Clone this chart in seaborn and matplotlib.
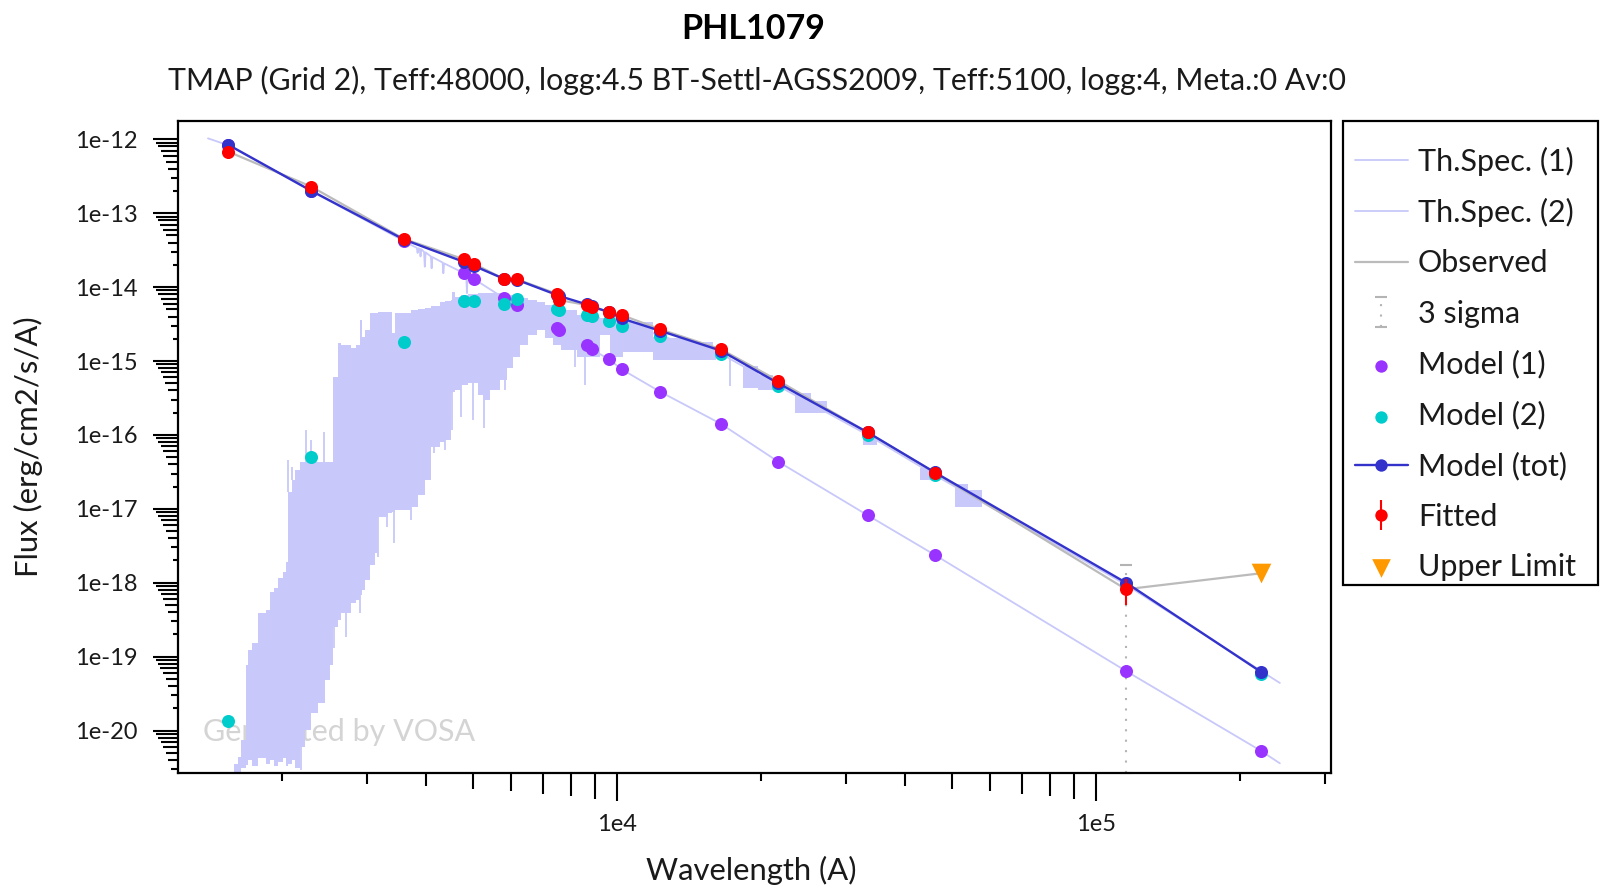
import numpy as np
import matplotlib
matplotlib.use("Agg")
import matplotlib.pyplot as plt
import seaborn as sns
from matplotlib.ticker import FixedLocator, FuncFormatter, NullFormatter
from matplotlib.patches import Rectangle

# ---------------------------------------------------------------- data
TITLE = "PHL1079"
SUBTITLE = ("TMAP (Grid 2), Teff:48000, logg:4.5 BT-Settl-AGSS2009, "
            "Teff:5100, logg:4, Meta.:0 Av:0")

# effective wavelengths of the photometric filters (A)
filter_wave = [1545, 2300, 3592, 4794, 5036, 5816, 6175, 7506, 7567, 8644,
               8855, 9636, 10228, 12297, 16487, 21713, 33379, 46117, 115520, 220740]

# observed fluxes used in the fit (all filters but the last)
fitted_wave = filter_wave[:-1]
fitted_flux = [6.79e-13, 2.29e-13, 4.48e-14, 2.38e-14, 2.06e-14, 1.28e-14, 1.28e-14,
               8.07e-15, 6.69e-15, 5.73e-15, 5.33e-15, 4.65e-15, 4.19e-15, 2.69e-15,
               1.44e-15, 5.41e-16, 1.08e-16, 3.08e-17, 8.15e-19]
fitted_err = [1.5e-14, 5.0e-15, 9.0e-16, 4.0e-16, 3.0e-16, 2.0e-16, 2.0e-16,
              1.5e-16, 1.5e-16, 1.2e-16, 1.1e-16, 1.0e-16, 9.0e-17, 5.0e-17,
              3.0e-17, 1.0e-17, 2.0e-18, 6.0e-19, 3.1e-19]

# upper limit
upper_wave = [220740]
upper_flux = [1.34e-18]

# 3-sigma range of the noisiest point
sigma3_wave = [115520]
sigma3_flux = [8.15e-19]
sigma3_err = [3.1e-19]

# synthetic photometry of the two components and their sum
model1_flux = [8.4e-13, 2.0e-13, 4.2e-14, 1.54e-14, 1.28e-14, 7.05e-15, 5.73e-15,
               2.77e-15, 2.65e-15, 1.65e-15, 1.44e-15, 1.05e-15, 7.72e-16, 3.85e-16,
               1.41e-16, 4.34e-17, 8.17e-18, 2.37e-18, 6.38e-20, 5.33e-21]
model2_flux = [1.36e-20, 4.98e-17, 1.82e-15, 6.48e-15, 6.48e-15, 5.85e-15, 6.9e-15,
               5.01e-15, 4.95e-15, 4.19e-15, 4.06e-15, 3.51e-15, 3.0e-15, 2.18e-15,
               1.24e-15, 4.59e-16, 1.0e-16, 2.85e-17, 9.4e-19, 5.9e-20]
model_tot_flux = [8.4e-13, 2.01e-13, 4.4e-14, 2.19e-14, 1.93e-14, 1.29e-14, 1.26e-14,
                  7.8e-15, 7.6e-15, 5.84e-15, 5.5e-15, 4.56e-15, 3.77e-15, 2.57e-15,
                  1.38e-15, 5.0e-16, 1.08e-16, 3.1e-17, 1.0e-18, 6.25e-20]

# theoretical spectrum of the hot component (TMAP)
spec1_wave = [1400, 1545, 2300, 3592, 3700, 3820, 3835, 3850, 3875, 3889, 3903, 3955,
              3970, 3985, 4088, 4102, 4116, 4325, 4340, 4355, 4794, 4845, 4861, 4877,
              5036, 5816, 6175, 6545, 6563, 6581, 7506, 8644, 8855, 9636, 10228, 12297,
              16487, 21713, 33379, 46117, 115520, 220740, 242000]
spec1_flux = [1.03e-12, 8.3e-13, 2.0e-13, 4.2e-14, 3.77e-14, 3.4e-14, 2.9e-14, 3.35e-14,
              3.3e-14, 2.6e-14, 3.25e-14, 3.0e-14, 1.89e-14, 2.95e-14, 2.6e-14, 1.8e-14,
              2.55e-14, 2.15e-14, 1.54e-14, 2.1e-14, 1.54e-14, 1.47e-14, 8.3e-15, 1.45e-14,
              1.28e-14, 7.05e-15, 5.73e-15, 4.4e-15, 2.8e-15, 4.35e-15, 2.77e-15, 1.65e-15,
              1.44e-15, 1.05e-15, 7.72e-16, 3.85e-16, 1.41e-16, 4.34e-17, 8.17e-18,
              2.37e-18, 6.38e-20, 5.33e-21, 3.6e-21]

# theoretical spectrum of the cool component (BT-Settl), binned:
# upper and lower envelope of the flux inside each bin
spec2_wave = [1549, 1587, 1618, 1641, 1681, 1697, 1730, 1781, 1850, 1886,
              1923, 1960, 2008, 2037, 2057, 2097, 2128, 2179, 2232, 2297,
              2376, 2457, 2517, 2553, 2615, 2653, 2784, 2851, 2907, 2934,
              2978, 3050, 3125, 3170, 3326, 3391, 3440, 3715, 3843, 3974,
              4090, 4272, 4375, 4502, 4524, 4590, 4724, 4886, 5126, 5252,
              5431, 5697, 5893, 6064, 6272, 6518, 6808, 7074, 7353, 7640,
              8251, 8912, 9215, 9670, 10293, 11890, 12600, 14210, 15870, 16100,
              18320, 19700, 21170, 23530, 25400, 27440, 32630, 34900, 42920, 45660,
              50780, 54000, 57810]
spec2_top = [2.75e-21, 3.52e-21, 4.37e-21, 7.43e-21, 7.69e-20, 1.23e-19, 1.53e-19, 3.89e-19, 4.26e-19, 7.50e-19,
             8.49e-19, 1.16e-18, 1.40e-18, 1.90e-18, 1.69e-17, 2.45e-17, 3.35e-17, 4.30e-17, 4.30e-17, 4.30e-17,
             4.30e-17, 4.30e-17, 4.30e-17, 6.08e-16, 1.75e-15, 1.65e-15, 1.50e-15, 1.65e-15, 3.59e-15, 2.11e-15,
             2.63e-15, 4.47e-15, 4.47e-15, 4.61e-15, 4.61e-15, 2.39e-15, 4.47e-15, 4.90e-15, 5.06e-15, 5.21e-15,
             5.55e-15, 6.28e-15, 6.49e-15, 6.69e-15, 8.59e-15, 7.35e-15, 7.82e-15, 8.07e-15, 8.32e-15, 8.32e-15,
             8.32e-15, 8.32e-15, 7.82e-15, 7.35e-15, 7.12e-15, 6.69e-15, 6.28e-15, 5.72e-15, 5.38e-15, 4.90e-15,
             4.19e-15, 3.94e-15, 3.82e-15, 3.94e-15, 3.37e-15, 2.11e-15, 2.05e-15, 1.81e-15, 1.55e-15, 1.50e-15,
             8.5e-16, 6.5e-16, 5.2e-16, 3.7e-16, 2.9e-16, 2.2e-16, 9.4e-17, 9.0e-17, 3.6e-17, 3.0e-17,
             2.2e-17, 1.8e-17, 1.6e-17]
spec2_bottom = [1e-21, 1e-21, 1e-21, 3.11e-21, 3.41e-21, 3.99e-21, 3.31e-21, 4.23e-21, 3.52e-21, 3.99e-21,
                3.31e-21, 3.75e-21, 4.23e-21, 3.31e-21, 3.52e-21, 3.99e-21, 3.11e-21, 5.97e-21, 1.01e-20, 1.72e-20,
                2.35e-20, 4.82e-20, 7.69e-20, 2.52e-19, 3.13e-19, 3.89e-19, 5.31e-19, 5.83e-19, 6.82e-19, 7.96e-19,
                1.09e-18, 1.73e-18, 2.52e-18, 7.75e-18, 8.78e-18, 9.06e-18, 9.63e-18, 1.06e-17, 1.54e-17, 2.45e-17,
                6.86e-17, 8.02e-17, 8.54e-17, 3.69e-16, 3.80e-16, 4.06e-16, 4.73e-16, 5.04e-16, 3.47e-16, 2.97e-16,
                4.06e-16, 5.53e-16, 8.04e-16, 1.13e-15, 1.65e-15, 2.25e-15, 2.63e-15, 2.05e-15, 1.65e-15, 1.41e-15,
                1.13e-15, 1.13e-15, 2.25e-15, 1.13e-15, 1.32e-15, 1.03e-15, 1.03e-15, 1.03e-15, 1.03e-15, 1.50e-15,
                4.3e-16, 4.1e-16, 5.2e-16, 2.0e-16, 2.0e-16, 2.2e-16, 7.3e-17, 9.0e-17, 2.45e-17, 3.0e-17,
                1.06e-17, 1.06e-17, 1.6e-17]
# infrared continuum of the cool component
spec2_cont_wave = [10293, 12297, 16487, 21713, 33379, 46117, 115520, 242000]
spec2_cont_flux = [3.4e-15, 2.2e-15, 1.25e-15, 4.6e-16, 1.0e-16, 2.85e-17, 9.4e-19, 4.4e-20]
# narrow features of the cool spectrum reaching beyond the envelope
feature_wave = [2057, 2097, 2239, 2300, 2442, 2189, 2560, 2718, 2907, 3170, 3310, 3423,
                3715, 4150, 4375, 4524, 4724, 5005, 5276, 5836, 8172, 8573, 17220]
feature_from = [1.69e-17, 2.45e-17, 4.3e-17, 4.3e-17, 4.3e-17, 5.97e-21, 2.52e-19, 3.89e-19,
                6.82e-19, 7.75e-18, 7.75e-18, 9.06e-18, 1.06e-17, 6.86e-17, 8.54e-17, 3.8e-16,
                4.73e-16, 5.04e-16, 2.97e-16, 5.53e-16, 1.41e-15, 1.13e-15, 1.2e-15]
feature_to = [4.57e-17, 3.68e-17, 1.16e-16, 8.54e-17, 1.10e-16, 2.92e-21, 1.31e-19, 1.84e-19,
              3.89e-19, 2.23e-18, 5.67e-18, 3.45e-18, 7.05e-18, 5.69e-17, 6.25e-17, 1.16e-16,
              1.75e-16, 1.59e-16, 1.24e-16, 4.06e-16, 8.29e-16, 4.73e-16, 4.59e-16]

X_LIM = (1212, 309500)
Y_LIM = (2.66e-21, 1.77e-12)

# ---------------------------------------------------------------- style
sns.set_theme(style="white")
plt.rcParams["font.family"] = ["Lato", "DejaVu Sans"]
plt.rcParams["axes.edgecolor"] = "black"
plt.rcParams["axes.linewidth"] = 1.6

LAV = "#c8c8fa"
PURPLE = "#9933ff"
CYAN = "#00cccc"
BLUE = "#3333cc"
RED = "#ff0000"
ORANGE = "#ff9900"
GREY = "#bbbbbb"
TXT = "#1a1a1a"
PX = 72 / 100  # points per pixel at dpi=100

W, H = 1604, 894
fig = plt.figure(figsize=(W / 100, H / 100), dpi=100, facecolor="white")
ax = fig.add_axes([178 / W, 1 - 773 / H, (1331 - 178) / W, (773 - 121) / H])
ax.set_xscale("log")
ax.set_yscale("log")
ax.set_xlim(*X_LIM)
ax.set_ylim(*Y_LIM)

ax.text(0.022, 0.063, "Generated by VOSA", transform=ax.transAxes, ha="left",
        va="center", fontsize=22, color="#d4d4d4", zorder=0.5)

# theoretical spectra
ax.fill_between(spec2_wave, spec2_bottom, spec2_top, step="post", color=LAV,
                lw=0, zorder=1)
ax.vlines(feature_wave, feature_from, feature_to, color=LAV, lw=1.3, zorder=1)
sns.lineplot(x=spec2_cont_wave, y=spec2_cont_flux, color=LAV, lw=1.3,
             estimator=None, sort=False, ax=ax, zorder=1.1)
h_spec2 = ax.lines[-1]
sns.lineplot(x=spec1_wave, y=spec1_flux, color=LAV, lw=1.3,
             estimator=None, sort=False, ax=ax, zorder=1.2)
h_spec1 = ax.lines[-1]

# observed SED
sns.lineplot(x=list(fitted_wave) + upper_wave, y=list(fitted_flux) + upper_flux,
             color=GREY, lw=1.6, estimator=None, sort=False, ax=ax, zorder=2)
h_obs = ax.lines[-1]

lo_3s = [f - Y_LIM[0] for f in sigma3_flux]
hi_3s = [3 * e for e in sigma3_err]
h_3s = ax.errorbar(sigma3_wave, sigma3_flux, yerr=[lo_3s, hi_3s], fmt="none",
                   ecolor="#b4b4b4", elinewidth=1.5, capsize=4.5, capthick=1.5,
                   zorder=2.1)
for bar in h_3s[2]:
    bar.set_linestyle((0, (1, 4)))
for cap in h_3s[1]:
    cap.set_clip_on(False)

# models
sns.scatterplot(x=filter_wave, y=model1_flux, color=PURPLE, s=88, linewidth=0,
                ax=ax, zorder=3)
h_m1 = ax.collections[-1]
sns.scatterplot(x=filter_wave, y=model2_flux, color=CYAN, s=88, linewidth=0,
                ax=ax, zorder=3.1)
h_m2 = ax.collections[-1]
sns.lineplot(x=filter_wave, y=model_tot_flux, color=BLUE, lw=1.7, marker="o",
             markersize=9.4, markeredgewidth=0, estimator=None, sort=False,
             ax=ax, zorder=3.2)
h_tot = ax.lines[-1]

h_fit = ax.errorbar(fitted_wave, fitted_flux, yerr=fitted_err, fmt="o", color=RED,
                    ms=9.4, mew=0, elinewidth=1.5, capsize=4.6, capthick=1.5,
                    zorder=4)
sns.scatterplot(x=upper_wave, y=upper_flux, color=ORANGE, marker="v", s=200,
                linewidth=0, ax=ax, zorder=4.1)
h_ul = ax.collections[-1]

# ---------------------------------------------------------------- axes
for sp in ax.spines.values():
    sp.set_color("black")
    sp.set_linewidth(1.6)
    sp.set_zorder(5)

xmaj = [1e4, 1e5]
ymaj = [10.0 ** k for k in range(-20, -11)]
xmin = [m * 10.0 ** k for k in (3, 4, 5) for m in range(2, 10)
        if X_LIM[0] < m * 10.0 ** k < X_LIM[1]]
ymin = [m * 10.0 ** k for k in range(-21, -12) for m in range(2, 10)
        if Y_LIM[0] < m * 10.0 ** k < Y_LIM[1]]
ax.xaxis.set_major_locator(FixedLocator(xmaj))
ax.xaxis.set_minor_locator(FixedLocator(xmin))
ax.yaxis.set_major_locator(FixedLocator(ymaj))
ax.yaxis.set_minor_locator(FixedLocator(ymin))
fmt = FuncFormatter(lambda v, p: "1e%d" % int(round(np.log10(v))))
ax.xaxis.set_major_formatter(fmt)
ax.yaxis.set_major_formatter(fmt)
ax.xaxis.set_minor_formatter(NullFormatter())
ax.yaxis.set_minor_formatter(NullFormatter())

ax.tick_params(which="both", direction="out", bottom=True, left=True, top=False,
               right=False, width=1.5, color="black", labelcolor=TXT, labelsize=17)
ax.tick_params(axis="x", which="major", length=28.3 * PX, pad=9.5)
ax.tick_params(axis="y", which="major", length=25 * PX, pad=11)


def mantissa(v):
    return v / 10 ** np.floor(np.log10(v) + 1e-9)


# minor tick length grows with the leading digit
for axis, slope, offset in ((ax.xaxis, 2.5, 3.3), (ax.yaxis, 2.5, 0.0)):
    locs = axis.get_minorticklocs()
    ticks = axis.get_minor_ticks(len(locs))
    for loc, tick in zip(locs, ticks):
        tick.tick1line.set_markersize((slope * mantissa(loc) + offset) * PX)
        tick.tick1line.set_markeredgewidth(1.5)

ax.set_xlabel("Wavelength (A)", fontsize=22.3, color=TXT)
ax.set_ylabel("Flux (erg/cm2/s/A)", fontsize=22.3, color=TXT)
ax.xaxis.set_label_coords(0.497, -0.149)
ax.xaxis.label.set_va("center")
ax.yaxis.set_label_coords(-0.130, 0.5)
ax.yaxis.label.set_va("center")

fig.text(753 / W, 1 - 29 / H, TITLE, ha="center", va="center", fontsize=24.5,
         weight="bold", color="black")
fig.text(757 / W, 1 - 80 / H, SUBTITLE, ha="center", va="center", fontsize=21.8,
         color=TXT)

# ---------------------------------------------------------------- legend
handles = [h_spec1, h_spec2, h_obs, h_3s, h_m1, h_m2, h_tot, h_fit, h_ul]
labels = ["Th.Spec. (1)", "Th.Spec. (2)", "Observed", "3 sigma", "Model (1)",
          "Model (2)", "Model (tot)", "Fitted", "Upper Limit"]
leg = fig.legend(handles, labels, loc="upper left",
                 bbox_to_anchor=(1355 / W, 1 - 146.5 / H),
                 bbox_transform=fig.transFigure, frameon=False, borderpad=0,
                 borderaxespad=0, handlelength=1.73, handletextpad=0.33,
                 labelspacing=0.73, fontsize=22, markerscale=0.95,
                 numpoints=1, scatterpoints=1)
for t in leg.get_texts():
    t.set_color(TXT)
fig.add_artist(Rectangle((1343 / W, 1 - 585 / H), (1598 - 1343) / W,
                         (585 - 121) / H, transform=fig.transFigure, fill=False,
                         ec="black", lw=1.6))

fig.savefig("out.png", dpi=100, facecolor="white")
